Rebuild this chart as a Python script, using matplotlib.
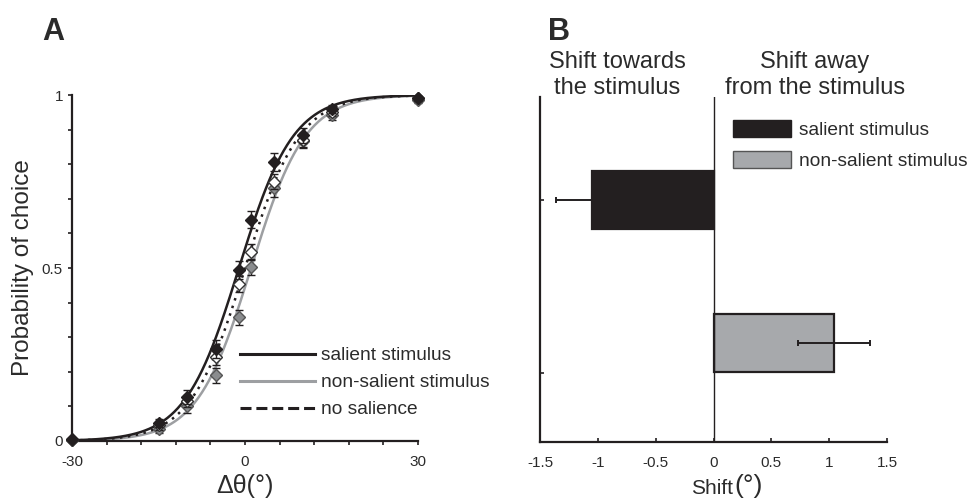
import numpy as np
import matplotlib
matplotlib.use("Agg")
import matplotlib.pyplot as plt
from matplotlib.lines import Line2D
from matplotlib.patches import Patch

plt.rcParams['font.family'] = ['Liberation Sans', 'DejaVu Sans']

# ---------------- data: panel A ----------------
delta_theta = [-30, -15, -10, -5, -1, 1, 5, 10, 15, 30]
p_salient = [0.005, 0.052, 0.128, 0.266, 0.494, 0.640, 0.806, 0.884, 0.960, 0.990]
p_nosal = [0.004, 0.045, 0.115, 0.243, 0.454, 0.546, 0.750, 0.870, 0.950, 0.990]
p_nonsal = [0.002, 0.035, 0.100, 0.190, 0.358, 0.503, 0.730, 0.868, 0.942, 0.985]
err_salient = [0.005, 0.012, 0.020, 0.025, 0.025, 0.025, 0.025, 0.022, 0.012, 0.008]
err_nosal = [0.005, 0.012, 0.018, 0.022, 0.022, 0.022, 0.022, 0.020, 0.012, 0.008]
err_nonsal = [0.005, 0.012, 0.020, 0.022, 0.022, 0.024, 0.024, 0.022, 0.014, 0.008]
# logistic fit parameters (midpoint, slope) for the three curves
fit_mu = {'salient': -1.05, 'nosal': 0.0, 'nonsal': 1.05}
fit_s = {'salient': 4.7, 'nosal': 4.7, 'nonsal': 4.7}

legend_a = ['salient stimulus', 'non-salient stimulus', 'no salience']

# ---------------- data: panel B ----------------
shift_labels = ['salient stimulus', 'non-salient stimulus']
shift_values = [-1.05, 1.04]
shift_err = [0.31, 0.31]

DARK = '#231f20'
GRAY = '#9d9fa2'
TEXT = '#2b2b2b'

fig = plt.figure(figsize=(9.71, 5.0), dpi=100)

# ================= Panel A =================
axA = fig.add_axes([72/971, 1-441/500, (418-72)/971, (441-95)/500])
xx = np.linspace(-30, 30, 400)
def logistic(x, mu, s):
    return 1.0/(1.0+np.exp(-(x-mu)/s))

axA.plot(xx, logistic(xx, fit_mu['nonsal'], fit_s['nonsal']), color=GRAY, lw=1.8, zorder=2)
axA.plot(xx, logistic(xx, fit_mu['nosal'], fit_s['nosal']), color=DARK, lw=1.8,
         linestyle=(0, (1, 2.2)), zorder=2)
axA.plot(xx, logistic(xx, fit_mu['salient'], fit_s['salient']), color=DARK, lw=1.8, zorder=3)

common = dict(fmt='D', markersize=6, capsize=3, elinewidth=1.0, capthick=1.0, clip_on=False)
axA.errorbar(delta_theta, p_nonsal, yerr=err_nonsal, color=DARK, mfc='#8a8c8e',
             mec='#555555', ecolor=DARK, zorder=4, **common)
axA.errorbar(delta_theta, p_nosal, yerr=err_nosal, color=DARK, mfc='white',
             mec='#333333', ecolor=DARK, zorder=5, **common)
axA.errorbar(delta_theta, p_salient, yerr=err_salient, color=DARK, mfc=DARK,
             mec=DARK, ecolor=DARK, zorder=6, **common)

axA.set_xlim(-30, 30)
axA.set_ylim(0, 1)
axA.set_xticks(np.arange(-30, 31, 6))
axA.set_xticklabels(['-30'] + ['']*4 + ['0'] + ['']*4 + ['30'])
axA.set_yticks(np.arange(0, 1.01, 0.1))
axA.set_yticklabels(['0'] + ['']*4 + ['0.5'] + ['']*4 + ['1'])
for sp in ['top', 'right']:
    axA.spines[sp].set_visible(False)
for sp in ['left', 'bottom']:
    axA.spines[sp].set_linewidth(1.6)
    axA.spines[sp].set_color(DARK)
axA.tick_params(direction='out', length=3, width=1.2, color=DARK, labelsize=11,
                labelcolor=TEXT)
axA.tick_params(axis='x', pad=7)
axA.tick_params(axis='y', pad=3.5)
axA.set_ylabel('Probability of choice', fontsize=17.5, color=TEXT)
axA.yaxis.set_label_coords(-0.11, 0.5)
axA.set_xlabel('Δθ(°)', fontsize=18, color=TEXT, labelpad=4)

handles_a = [Line2D([], [], color=DARK, lw=2.2),
             Line2D([], [], color=GRAY, lw=2.2),
             Line2D([], [], color=DARK, lw=2.2, linestyle=(0, (3.6, 1.6)))]
legA = fig.legend(handles_a, legend_a, loc='upper left', bbox_to_anchor=(240/971, 1-347/500),
                  frameon=False, fontsize=13.8, handlelength=3.9, handletextpad=0.35,
                  labelspacing=0.5, borderaxespad=0, borderpad=0)
for t in legA.get_texts():
    t.set_color(TEXT)

fig.text(42/971, 1-32/500, 'A', fontsize=22, fontweight='bold', color=TEXT, va='center', ha='left')

# ================= Panel B =================
axB = fig.add_axes([540/971, 1-442/500, (887-540)/971, (442-97)/500])
bar_y = [0.701, 0.287]
bar_h = 0.168
colors_b = [DARK, '#a7a9ac']
edges_b = [DARK, DARK]
for i in range(2):
    axB.barh(bar_y[i], shift_values[i], height=bar_h, color=colors_b[i],
             edgecolor=edges_b[i], linewidth=1.6, zorder=2)
    axB.errorbar(shift_values[i], bar_y[i], xerr=shift_err[i], fmt='none', ecolor=DARK,
                 elinewidth=1.4, capsize=2, capthick=1.4, zorder=3 if i == 1 else 1)
axB.axvline(0, color=DARK, lw=1.0, zorder=4)
axB.set_xlim(-1.5, 1.5)
axB.set_ylim(0, 1)
axB.set_xticks([-1.5, -1, -0.5, 0, 0.5, 1, 1.5])
axB.set_xticklabels(['-1.5', '-1', '-0.5', '0', '0.5', '1', '1.5'])
axB.set_yticks([0.701, 0.2])
axB.set_yticklabels(['', ''])
for sp in ['top', 'right']:
    axB.spines[sp].set_visible(False)
for sp in ['left', 'bottom']:
    axB.spines[sp].set_linewidth(1.6)
    axB.spines[sp].set_color(DARK)
axB.tick_params(direction='in', length=3, width=1.2, color=DARK, labelsize=11,
                labelcolor=TEXT, pad=10)

shift_txt = fig.text(712/971, 1-488/500, 'Shift', fontsize=15, color=TEXT,
                     ha='center', va='center')
deg_txt = fig.text(0, 0, '(°)', fontsize=19, color=TEXT, ha='left', va='baseline')

handles_b = [Patch(facecolor=DARK, edgecolor=DARK),
             Patch(facecolor='#a7a9ac', edgecolor='#555555', linewidth=1.0)]
legB = fig.legend(handles_b, shift_labels, loc='upper left', bbox_to_anchor=(733/971, 1-120/500),
                  frameon=False, fontsize=13.8, handlelength=3.0, handleheight=1.0,
                  handletextpad=0.45, labelspacing=0.62, borderaxespad=0, borderpad=0)
for t in legB.get_texts():
    t.set_color(TEXT)

fig.text(617/971, 1-75/500, 'Shift towards\nthe stimulus', fontsize=17, color=TEXT,
         ha='center', va='center', linespacing=1.2)
fig.text(815/971, 1-75/500, 'Shift away\nfrom the stimulus', fontsize=17, color=TEXT,
         ha='center', va='center', linespacing=1.2)
fig.text(548/971, 1-32/500, 'B', fontsize=22, fontweight='bold', color=TEXT, va='center', ha='left')

# place the bracketed degree sign right after "Shift"
fig.canvas.draw()
r = fig.canvas.get_renderer()
bb = shift_txt.get_window_extent(r)
deg_txt.set_position(((bb.x1 + 1)/fig.bbox.width, (bb.y0 + 4)/fig.bbox.height))

fig.savefig('out.png', dpi=100)
